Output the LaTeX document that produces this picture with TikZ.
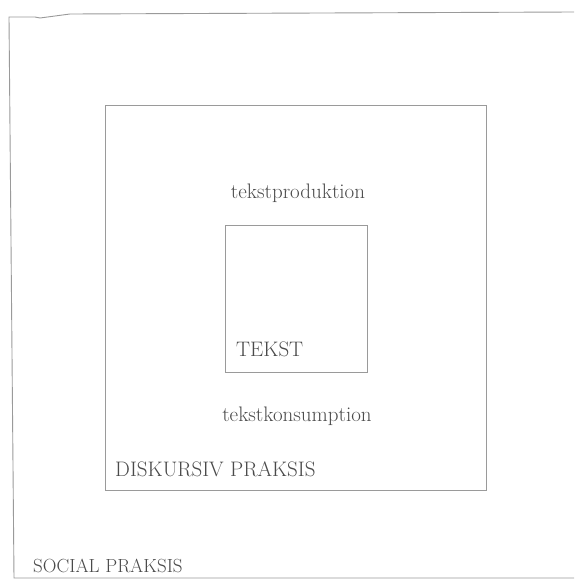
\documentclass[tikz,border=0pt]{standalone}
\usepackage{tikz}
\usetikzlibrary{positioning}
\definecolor{frame}{HTML}{9A9A9A}
\definecolor{ink}  {HTML}{4A4A4A}
\tikzset{
  lbl/.style={font=\fontsize{21}{23}\selectfont, text=ink, inner sep=0pt},
}
\begin{document}
\begin{tikzpicture}[x=1pt, y=-1pt]
      \useasboundingbox (0,0) rectangle (574,581);
      % social praksis (right edge off the page)
      \draw[frame, line width=0.9pt] (574,12) -- (70,14) -- (40,18) -- (35,17) -- (9,17)
        -- (14,578) -- (574,578);
      % diskursiv praksis
      \draw[frame, line width=0.8pt] (105,105) rectangle (486,490);
      % tekst
      \draw[frame, line width=0.8pt] (225,225) rectangle (367,372);
      \node[lbl] (prod) at (298,193) {tekstproduktion};
      \node[lbl, anchor=west] (tekst) at (236,349) {TEKST};
      \node[lbl] (kons) at (297,416) {tekstkonsumption};
      \node[lbl, anchor=west] (disk) at (115,469) {DISKURSIV PRAKSIS};
      \node[lbl, anchor=west, font=\fontsize{19}{21}\selectfont] (soc) at (33,566) {SOCIAL PRAKSIS};
    \end{tikzpicture}
\end{document}
